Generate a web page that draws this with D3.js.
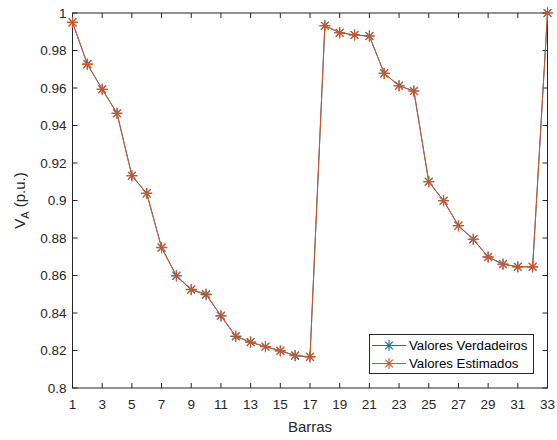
<!DOCTYPE html>
<html>
<head>
<meta charset="utf-8">
<script src="https://cdn.jsdelivr.net/npm/d3@7"></script>
<style>
  body { margin: 0; background: #fff; }
  svg { font-family: "Liberation Sans", Arial, sans-serif; }
</style>
</head>
<body>
<div id="chart"></div>
<script>
const barras = d3.range(1, 34);
const verdadeiros = [0.9950, 0.9728, 0.9593, 0.9465, 0.9132, 0.9038, 0.8748, 0.8597, 0.8524, 0.8498,
    0.8384, 0.8275, 0.8244, 0.8220, 0.8198, 0.8172, 0.8166, 0.9932, 0.9895, 0.9883,
    0.9877, 0.9678, 0.9612, 0.9584, 0.9100, 0.8999, 0.8866, 0.8793, 0.8698, 0.8660,
    0.8646, 0.8646, 1.0000];
const estimados = [0.9950, 0.9726, 0.9593, 0.9465, 0.9132, 0.9038, 0.8750, 0.8600, 0.8526, 0.8501,
    0.8386, 0.8277, 0.8245, 0.8221, 0.8199, 0.8174, 0.8167, 0.9932, 0.9895, 0.9883,
    0.9877, 0.9678, 0.9612, 0.9584, 0.9100, 0.8999, 0.8866, 0.8793, 0.8700, 0.8661,
    0.8647, 0.8647, 1.0000];
const xTicks = d3.range(1, 34, 2);
const yTicks = d3.range(0, 11).map(i => +(0.8 + i * 0.02).toFixed(2));

const series = [
    {name: "Valores Verdadeiros", values: verdadeiros, color: "#0072BD"},
    {name: "Valores Estimados", values: estimados, color: "#D95319"}
];

const W = 557, H = 440;
const margin = {top: 13, right: 9.5, bottom: 52, left: 72.5};
const width = W - margin.left - margin.right;
const height = H - margin.top - margin.bottom;
const axisColor = "#262626";

const svg = d3.select("#chart").append("svg")
    .attr("width", W).attr("height", H);

const g = svg.append("g")
    .attr("transform", "translate(" + margin.left + "," + margin.top + ")");

const x = d3.scaleLinear().domain([1, 33]).range([0, width]);
const y = d3.scaleLinear().domain([0.8, 1]).range([height, 0]);

// box + ticks (MATLAB style, ticks inward)
const tickLen = 5;
g.append("rect")
    .attr("width", width).attr("height", height)
    .attr("fill", "none").attr("stroke", axisColor).attr("stroke-width", 1);

xTicks.forEach(t => {
    g.append("line").attr("x1", x(t)).attr("x2", x(t)).attr("y1", height).attr("y2", height - tickLen)
        .attr("stroke", axisColor);
    g.append("line").attr("x1", x(t)).attr("x2", x(t)).attr("y1", 0).attr("y2", tickLen)
        .attr("stroke", axisColor);
    g.append("text").attr("x", x(t)).attr("y", height + 21)
        .attr("text-anchor", "middle").attr("font-size", 13.5).attr("fill", axisColor)
        .text(t);
});

yTicks.forEach(t => {
    g.append("line").attr("x1", 0).attr("x2", tickLen).attr("y1", y(t)).attr("y2", y(t))
        .attr("stroke", axisColor);
    g.append("line").attr("x1", width).attr("x2", width - tickLen).attr("y1", y(t)).attr("y2", y(t))
        .attr("stroke", axisColor);
    g.append("text").attr("x", -6).attr("y", y(t)).attr("dy", "0.35em")
        .attr("text-anchor", "end").attr("font-size", 13.5).attr("fill", axisColor)
        .text(d3.format("")(t));
});

// axis labels
svg.append("text")
    .attr("x", margin.left + width / 2).attr("y", H - 8)
    .attr("text-anchor", "middle").attr("font-size", 15).attr("fill", axisColor)
    .text("Barras");

const yl = svg.append("text")
    .attr("transform", "translate(25," + (margin.top + height / 2) + ") rotate(-90)")
    .attr("text-anchor", "middle").attr("font-size", 15).attr("fill", axisColor);
yl.append("tspan").text("V");
yl.append("tspan").attr("font-size", 11).attr("dy", 4).text("A");
yl.append("tspan").attr("dy", -4).text(" (p.u.)");

// asterisk marker
function star(sel, cx, cy, color, r) {
    const a = r * 0.7071;
    const p = "M" + (cx - r) + "," + cy + "H" + (cx + r) +
        "M" + cx + "," + (cy - r) + "V" + (cy + r) +
        "M" + (cx - a) + "," + (cy - a) + "L" + (cx + a) + "," + (cy + a) +
        "M" + (cx - a) + "," + (cy + a) + "L" + (cx + a) + "," + (cy - a);
    sel.append("path").attr("d", p).attr("stroke", color).attr("stroke-width", 1.1).attr("fill", "none");
}

const line = d3.line().x((d, i) => x(barras[i])).y(d => y(d));

series.forEach(s => {
    g.append("path").datum(s.values)
        .attr("d", line).attr("fill", "none")
        .attr("stroke", s.color).attr("stroke-width", 1);
    s.values.forEach((v, i) => star(g, x(barras[i]), y(v), s.color, 5.5));
});

// legend
const lg = svg.append("g");
lg.append("rect").attr("x", 369.5).attr("y", 334.5).attr("width", 164).attr("height", 39)
    .attr("fill", "#fff").attr("stroke", axisColor);
series.forEach((s, i) => {
    const cy = 345.5 + i * 18;
    lg.append("line").attr("x1", 372).attr("x2", 406).attr("y1", cy).attr("y2", cy)
        .attr("stroke", s.color);
    star(lg, 389, cy, s.color, 5.5);
    lg.append("text").attr("x", 409).attr("y", cy).attr("dy", "0.35em")
        .attr("font-size", 13.25).attr("fill", "#000").text(s.name);
});
</script>
</body>
</html>
